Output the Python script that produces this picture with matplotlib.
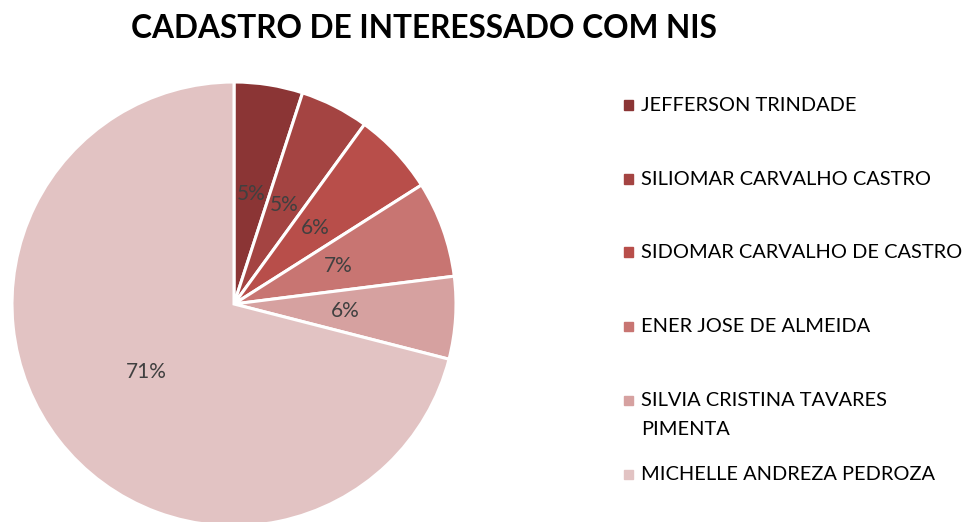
import matplotlib.pyplot as plt
from matplotlib.patches import Rectangle

plt.rcParams['font.family'] = ['Lato', 'DejaVu Sans']

nomes = ["JEFFERSON TRINDADE", "SILIOMAR CARVALHO CASTRO", "SIDOMAR CARVALHO DE CASTRO",
         "ENER JOSE DE ALMEIDA", "SILVIA CRISTINA TAVARES\nPIMENTA", "MICHELLE ANDREZA PEDROZA"]
valores = [5, 5, 6, 7, 6, 71]
cores = ["#8B3535", "#A44442", "#B84E4A", "#C87572", "#D6A1A0", "#E2C3C3"]

W, H = 968, 522
fig = plt.figure(figsize=(W / 100, H / 100), dpi=100)

# pie centre (234, 304) px from top-left, radius 222 px
cx, cy, r = 234, H - 304, 222
ax = fig.add_axes([(cx - r) / W, (cy - r) / H, 2 * r / W, 2 * r / H])
wedges, texts, autotexts = ax.pie(valores, colors=cores, startangle=90, counterclock=False,
                                  autopct='%1.0f%%', pctdistance=0.5,
                                  wedgeprops=dict(edgecolor='white', linewidth=2.2),
                                  textprops=dict(color='#404040', fontsize=15))
ax.set_xlim(-1, 1)
ax.set_ylim(-1, 1)
ax.set_aspect('equal')

fig.text(424 / W, 1 - 29 / H, "CADASTRO DE INTERESSADO COM NIS", ha='center', va='center',
         fontsize=22.8, fontweight='bold', color='black')

# legend, laid out by hand like the original
leg_y = [105, 179, 252, 326, 400, 474]
for nome, cor, y in zip(nomes, cores, leg_y):
    fig.patches.append(Rectangle(((628 - 4.5) / W, (H - y - 4.5) / H), 9 / W, 9 / H,
                                 transform=fig.transFigure, color=cor))
    fig.text(641 / W, 1 - (y - 8) / H, nome, ha='left', va='top', fontsize=14.4,
             color='black', linespacing=1.85)

fig.savefig("out.png", dpi=100)
